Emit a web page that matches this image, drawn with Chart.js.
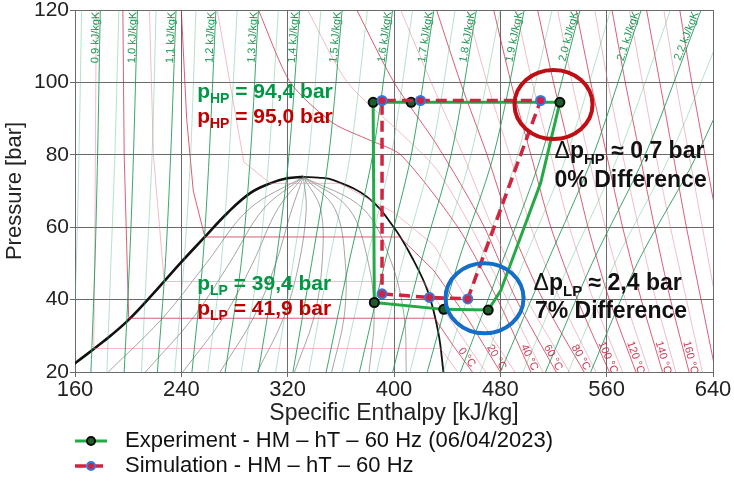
<!DOCTYPE html>
<html>
<head>
<meta charset="utf-8">
<script src="https://cdn.jsdelivr.net/npm/chart.js@4.4.0/dist/chart.umd.min.js"></script>
<style>
html, body { margin: 0; padding: 0; background: #fff; }
</style>
</head>
<body>
<canvas id="ph_chart" width="734" height="485"></canvas>
<script>
const FONT = '"Liberation Sans", Arial, Helvetica, sans-serif';

// axes
const h_ticks = [160, 240, 320, 400, 480, 560, 640];
const p_ticks = [20, 40, 60, 80, 100, 120];

// measured cycle (h in kJ/kg, p in bar), closed loop
const exp_label = 'Experiment - HM \u2013 hT \u2013 60 Hz (06/04/2023)';
const exp_h = [385.2, 437.4, 470.9, 480.2, 510.3, 524.8, 412.9, 384.3, 385.2];
const exp_p = [39.2, 37.3, 37.1, 42.4, 72.2, 94.5, 94.5, 94.5, 39.2];
const exp_bends = [3, 4, 8];   // points on the line without a marker

// simulated cycle
const sim_label = 'Simulation - HM \u2013 hT \u2013 60 Hz';
const sim_h = [391.0, 426.7, 455.5, 510.3, 419.9, 391.0, 391.0];
const sim_p = [41.6, 40.6, 40.2, 95.0, 95.0, 95.0, 41.6];
const sim_bends = [6];

// saturation dome
const dome_liq_h = [152.0, 160.0, 181.3, 198.9, 219.0, 239.1, 256.6, 274.3, 291.8, 306.9, 319.5, 331.8];
const dome_liq_p = [20.0, 22.4, 28.4, 33.9, 41.7, 50.0, 56.9, 63.8, 69.4, 72.1, 73.5, 73.9];
const dome_vap_h = [331.8, 343.0, 354.4, 380.0, 399.6, 414.6, 425.9, 433.4, 437.2];
const dome_vap_p = [73.9, 73.7, 73.0, 68.3, 60.1, 50.9, 41.8, 30.8, 20.0];

// vapour quality lines 0.1 ... 0.9
const quality_p = [20, 35, 50, 65, 73.9];
const quality_h = [
    [185.0, 226.2, 258.7, 290.9, 331.8],
    [213.0, 248.9, 276.1, 301.7, 331.8],
    [241.1, 271.6, 293.6, 312.4, 331.8],
    [269.1, 294.3, 311.0, 323.2, 331.8],
    [297.1, 317.0, 328.5, 334.0, 331.8],
    [325.1, 339.7, 345.9, 344.8, 331.8],
    [353.1, 362.4, 363.4, 355.6, 331.8],
    [381.2, 385.1, 380.8, 366.3, 331.8],
    [409.2, 407.8, 398.3, 377.1, 331.8]
];

// isentropes (kJ/kgK), h at the pressures in isen_p
const isen_p = [120, 80, 50, 20];
const isen_s = [0.85, 0.90, 0.95, 1.00, 1.05, 1.10, 1.15, 1.20, 1.25, 1.30, 1.35, 1.40, 1.45, 1.50,
                1.55, 1.60, 1.65, 1.70, 1.75, 1.80, 1.85, 1.90, 1.95, 2.00, 2.05, 2.10, 2.15, 2.20, 2.25, 2.30];
const isen_h = [
    [165, 163, 161, 158], [179, 177, 175, 172], [193, 190, 187, 184], [207, 204, 201, 197],
    [221, 218, 214, 210], [236, 232, 228, 222], [251, 247, 242, 235], [266, 261, 256, 248],
    [282, 276, 270, 260], [298, 292, 285, 273], [313, 306, 298, 285], [329, 321, 311, 298],
    [345, 336, 324, 311], [361, 351, 338, 324], [380, 367, 351, 336], [399, 384, 366, 349],
    [414, 398, 379, 361], [430, 413, 393, 374], [446, 428, 406, 387], [462, 443, 420, 399],
    [480, 458, 433, 412], [498, 475, 448, 425], [519, 493, 464, 437], [540, 511, 481, 450],
    [563, 530, 497, 465], [586, 550, 515, 480], [608, 569, 532, 497], [631, 589, 549, 514],
    [653, 608, 566, 531], [676, 628, 583, 548]
];

// isotherms (deg C)
const iso_T = [-10, 0, 10, 20, 30, 40, 50, 60, 70, 80, 90, 100, 110, 120, 130, 140, 150, 160, 170, 180, 190, 200];
const iso_h = [
    [176, 175, 174.1, 434.9, 448],
    [196, 197, 200.4, 430.6, 445, 459],
    [216, 219, 227.1, 422, 445, 469],
    [240, 244, 249, 257.7, 404.2, 430, 455, 480],
    [267, 287, 307.0, 359.3, 400, 430, 455, 491],
    [298, 322, 354, 382, 405, 448, 478, 503],
    [335, 365, 405, 432, 458, 485, 512],
    [372, 400, 430, 450, 468, 492, 522],
    [405, 428, 452, 474, 500, 532],
    [432, 450, 470, 488, 512, 543],
    [455, 470, 487, 503, 525, 552],
    [475, 488, 503, 518, 538, 562],
    [492, 504, 518, 532, 550, 572],
    [508, 520, 533, 546, 562, 582],
    [523, 534, 546, 559, 574, 592],
    [537, 548, 560, 572, 586, 602],
    [551, 561, 572, 584, 597, 612],
    [564, 574, 585, 596, 608, 622],
    [577, 587, 597, 608, 620, 632],
    [590, 600, 610, 620, 631, 642],
    [603, 612, 622, 632, 642, 652],
    [615, 624, 634, 644, 654, 662]
];
const iso_p = [
    [120, 60, 26.5, 26.5, 20],
    [120, 80, 34.85, 34.85, 27, 20],
    [120, 80, 45, 45, 33, 20],
    [120, 90, 70, 57.3, 57.3, 48, 35, 20],
    [120, 78, 72.1, 72.1, 64, 55, 40, 20],
    [120, 100, 88.8, 84, 80, 60, 40, 20],
    [120, 100, 86, 76, 60, 40, 20],
    [120, 100, 84, 72, 60, 40, 20],
    [120, 100, 80, 60, 40, 20], [120, 100, 80, 60, 40, 20], [120, 100, 80, 60, 40, 20],
    [120, 100, 80, 60, 40, 20], [120, 100, 80, 60, 40, 20], [120, 100, 80, 60, 40, 20],
    [120, 100, 80, 60, 40, 20], [120, 100, 80, 60, 40, 20], [120, 100, 80, 60, 40, 20],
    [120, 100, 80, 60, 40, 20], [120, 100, 80, 60, 40, 20], [120, 100, 80, 60, 40, 20],
    [120, 100, 80, 60, 40, 20], [120, 100, 80, 60, 40, 20]
];

let pts = (hs, ps) => hs.map((h, i) => ({x: h, y: ps[i]}));

const GREEN = 'rgb(0,150,68)';
const RED = 'rgb(192,0,0)';

let background = function() {
    let sets = [];
    isen_s.forEach((s, i) => {
        let major = Math.round(s * 100) % 10 === 0;
        sets.push({
            data: pts(isen_h[i], isen_p),
            borderColor: major ? 'rgba(25,150,85,0.85)' : 'rgba(70,185,120,0.5)',
            borderWidth: major ? 1 : 0.8,
            tension: 0.3,
        });
    });
    iso_T.forEach((T, i) => {
        let major = T % 20 === 0;
        sets.push({
            data: pts(iso_h[i], iso_p[i]),
            borderColor: major ? 'rgba(205,40,75,0.75)' : 'rgba(232,130,155,0.6)',
            borderWidth: major ? 1 : 0.9,
            tension: T <= 30 ? 0 : 0.25,
        });
    });
    quality_h.forEach(hs => {
        sets.push({
            data: pts(hs, quality_p),
            borderColor: 'rgba(95,95,95,0.7)',
            borderWidth: 0.8,
            tension: 0.35,
        });
    });
    sets.push({data: pts(dome_liq_h, dome_liq_p), borderColor: '#111', borderWidth: 2.6, tension: 0.4});
    sets.push({data: pts(dome_vap_h, dome_vap_p), borderColor: '#111', borderWidth: 1.8, tension: 0.4});
    return sets.map(d => Object.assign(d, {showLine: true, pointRadius: 0, pointHoverRadius: 0, order: 5, clip: 0}));
};

// text notes, anchored in data coordinates (left end of baseline)
const notes = [
    {h: 251.9, p: 95.7, color: GREEN, size: 21, parts: [['p'], ['HP', 'sub'], [' = 94,4 bar']]},
    {h: 251.9, p: 88.8, color: RED, size: 21, parts: [['p'], ['HP', 'sub'], [' = 95,0 bar']]},
    {h: 251.9, p: 42.65, color: GREEN, size: 21, parts: [['p'], ['LP', 'sub'], [' = 39,4 bar']]},
    {h: 251.9, p: 35.75, color: RED, size: 21, parts: [['p'], ['LP', 'sub'], [' = 41,9 bar']]},
    {h: 520.8, p: 79.1, color: '#111', size: 23, parts: [['\u0394', 'sym'], ['p'], ['HP', 'sub'], [' \u2248 0,7 bar']]},
    {h: 520.8, p: 71.1, color: '#111', size: 23, parts: [['0% Difference']]},
    {h: 505.0, p: 42.65, color: '#111', size: 23, parts: [['\u0394', 'sym'], ['p'], ['LP', 'sub'], [' \u2248 2,4 bar']]},
    {h: 506.0, p: 34.9, color: '#111', size: 23, parts: [['7% Difference']]}
];
const rings = [
    {h: 520.0, p: 93.9, rx: 39, ry: 34.5, color: 'rgb(190,15,20)'},
    {h: 468.1, p: 40.4, rx: 39, ry: 35, color: 'rgb(20,110,200)'}
];

let draw_rich = function(ctx, x0, y0, parts, size) {
    let cx = x0;
    let sub = Math.round(size * 0.66);
    parts.forEach(([txt, kind]) => {
        if (kind === 'sub') ctx.font = 'bold ' + sub + 'px ' + FONT;
        else if (kind === 'sym') ctx.font = size + 'px ' + FONT;
        else ctx.font = 'bold ' + size + 'px ' + FONT;
        ctx.fillText(txt, cx, y0 + (kind === 'sub' ? Math.round(size * 0.24) : 0));
        cx += ctx.measureText(txt).width;
    });
};

const overlay = {
    id: 'overlay',
    afterDatasetsDraw(chart) {
        const ctx = chart.ctx, xs = chart.scales.x, ys = chart.scales.y, a = chart.chartArea;
        ctx.save();
        ctx.beginPath();
        ctx.rect(a.left, a.top, a.right - a.left, a.bottom - a.top);
        ctx.clip();

        // isentrope labels
        ctx.font = '11px ' + FONT;
        ctx.fillStyle = 'rgb(30,150,85)';
        ctx.textAlign = 'center';
        ctx.textBaseline = 'alphabetic';
        isen_s.forEach((s, i) => {
            if (Math.round(s * 100) % 10 !== 0 || s > 2.25) return;
            let x0 = xs.getPixelForValue(isen_h[i][0]), y0 = ys.getPixelForValue(isen_p[0]);
            let x1 = xs.getPixelForValue(isen_h[i][1]), y1 = ys.getPixelForValue(isen_p[1]);
            let t = 0.19;
            ctx.save();
            ctx.translate(x0 + (x1 - x0) * t, y0 + (y1 - y0) * t);
            ctx.rotate(Math.atan2(y0 - y1, x0 - x1));
            ctx.fillText(s.toFixed(1).replace('.', ',') + ' kJ/kgK', 0, -1);
            ctx.restore();
        });

        // isotherm labels
        ctx.fillStyle = 'rgba(200,40,70,0.9)';
        ctx.textBaseline = 'middle';
        iso_T.forEach((T, i) => {
            if (T < 0 || T > 160 || T % 20 !== 0) return;
            let hs = iso_h[i], ps = iso_p[i], n = hs.length;
            let xa = xs.getPixelForValue(hs[n - 2]), ya = ys.getPixelForValue(ps[n - 2]);
            let xb = xs.getPixelForValue(hs[n - 1]), yb = ys.getPixelForValue(ps[n - 1]);
            let yl = ys.getPixelForValue(24);
            let f = (yl - ya) / (yb - ya);
            ctx.save();
            ctx.translate(xa + (xb - xa) * f + 5, yl);
            ctx.rotate(Math.atan2(yb - ya, xb - xa));
            ctx.fillText(T + ' \u00b0C', 0, 0);
            ctx.restore();
        });
        ctx.restore();

        // circles
        ctx.save();
        ctx.lineWidth = 4;
        rings.forEach(r => {
            ctx.strokeStyle = r.color;
            ctx.beginPath();
            ctx.ellipse(xs.getPixelForValue(r.h), ys.getPixelForValue(r.p), r.rx, r.ry, 0, 0, Math.PI * 2);
            ctx.stroke();
        });

        // notes
        ctx.textAlign = 'left';
        ctx.textBaseline = 'alphabetic';
        notes.forEach(n => {
            ctx.fillStyle = n.color;
            draw_rich(ctx, xs.getPixelForValue(n.h), ys.getPixelForValue(n.p), n.parts, n.size);
        });

        // legend
        const rows = [441, 466];
        [0, 1].forEach(k => {
            let ds = chart.data.datasets[k];
            let yy = rows[k];
            ctx.strokeStyle = ds.borderColor;
            ctx.lineWidth = ds.borderWidth;
            ctx.setLineDash(ds.borderDash || []);
            ctx.beginPath();
            ctx.moveTo(75, yy);
            ctx.lineTo(107, yy);
            ctx.stroke();
            ctx.setLineDash([]);
            ctx.beginPath();
            ctx.arc(91, yy, 4, 0, Math.PI * 2);
            ctx.fillStyle = ds.pointBackgroundColor;
            ctx.fill();
            ctx.lineWidth = 2;
            ctx.strokeStyle = ds.pointBorderColor;
            ctx.stroke();
            ctx.fillStyle = '#111';
            ctx.font = '22px ' + FONT;
            ctx.textBaseline = 'middle';
            ctx.fillText(ds.label, 125, yy);
        });
        ctx.restore();
    }
};

let ctx = document.getElementById('ph_chart').getContext('2d');

let chart = new Chart(ctx, {
    type: 'scatter',
    data: {
        datasets: [{
            label: exp_label,
            data: pts(exp_h, exp_p),
            showLine: true,
            borderColor: 'rgb(35,170,70)',
            borderWidth: 3,
            pointRadius: c => exp_bends.includes(c.dataIndex) ? 0 : 4.5,
            pointBackgroundColor: 'rgb(30,95,40)',
            pointBorderColor: '#0a0a0a',
            pointBorderWidth: 2,
            order: 1,
            clip: false,
        }, {
            label: sim_label,
            data: pts(sim_h, sim_p),
            showLine: true,
            borderColor: 'rgb(210,35,65)',
            borderWidth: 3.5,
            borderDash: [11, 6],
            pointRadius: c => sim_bends.includes(c.dataIndex) ? 0 : 4.5,
            pointBackgroundColor: 'rgb(205,35,70)',
            pointBorderColor: 'rgb(55,120,220)',
            pointBorderWidth: 2,
            order: 0,
            clip: false,
        }].concat(background()),
    },
    options: {
        responsive: false,
        animation: false,
        events: [],
        layout: {padding: {top: 10, right: 21, bottom: 58, left: 0}},
        plugins: {legend: {display: false}, tooltip: {enabled: false}},
        scales: {
            x: {
                type: 'linear',
                min: h_ticks[0],
                max: h_ticks[h_ticks.length - 1],
                afterBuildTicks: s => { s.ticks = h_ticks.map(v => ({value: v})); },
                ticks: {color: '#222', font: {family: FONT, size: 22}, padding: 0},
                grid: {color: '#6a6a6a', lineWidth: 1, tickLength: 5},
                border: {color: '#6a6a6a'},
                title: {display: true, text: 'Specific Enthalpy [kJ/kg]', color: '#222',
                        font: {family: FONT, size: 23}, padding: {top: 0, bottom: 0}},
                afterFit: s => { s.height = 55; s.paddingLeft = 0; s.paddingRight = 0; },
            },
            y: {
                type: 'linear',
                min: p_ticks[0],
                max: p_ticks[p_ticks.length - 1],
                afterBuildTicks: s => { s.ticks = p_ticks.map(v => ({value: v})); },
                ticks: {color: '#222', font: {family: FONT, size: 21}, padding: 1},
                grid: {color: '#6a6a6a', lineWidth: 1, tickLength: 5},
                border: {color: '#6a6a6a'},
                title: {display: true, text: 'Pressure [bar]', color: '#222',
                        font: {family: FONT, size: 22}, padding: {top: 2, bottom: 0}},
                afterFit: s => { s.width = 75; s.paddingTop = 0; s.paddingBottom = 0; },
            },
        },
    },
    plugins: [overlay],
});
</script>
</body>
</html>
